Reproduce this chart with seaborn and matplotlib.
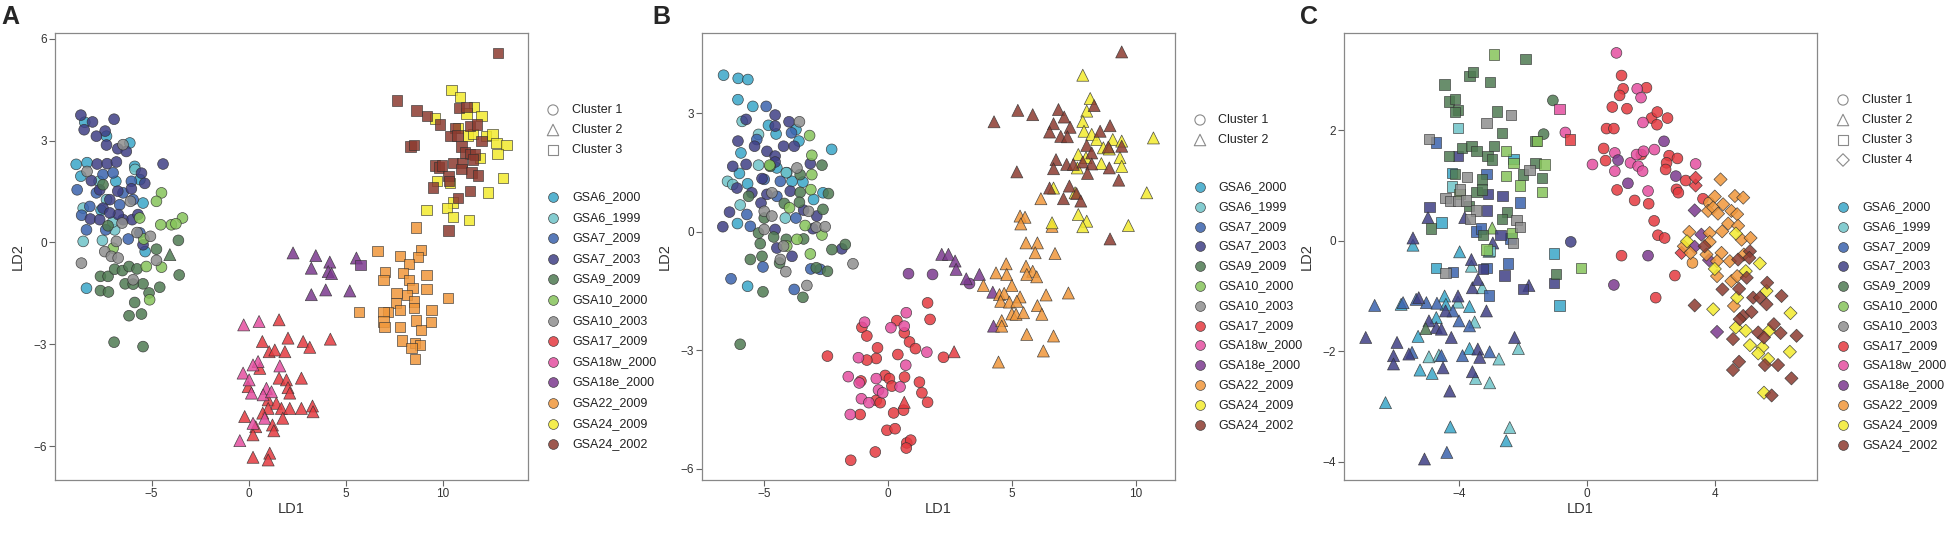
import pandas as pd
import matplotlib
matplotlib.use('Agg')
import matplotlib.pyplot as plt
import seaborn as sns

groups = ['GSA6_2000', 'GSA6_1999', 'GSA7_2009', 'GSA7_2003', 'GSA9_2009', 'GSA10_2000',
          'GSA10_2003', 'GSA17_2009', 'GSA18w_2000', 'GSA18e_2000', 'GSA22_2009',
          'GSA24_2009', 'GSA24_2002']
colors = ['#3AA6C8', '#6EC3C8', '#3B63AD', '#3F3F85', '#4F7A52', '#86C45A', '#8E8E8E',
          '#E43A3F', '#E44FA0', '#7B3A8E', '#F0973B', '#F3EA2E', '#8C3B30']

# ---------------- panel A (LD1, LD2) ----------------
A_GSA6_2000_1 = [(-8.88, 2.30), (-8.32, 2.35), (-8.64, 1.95), (-6.12, 2.93), (-5.44, 1.16), (-6.84, 1.80),
                 (-8.35, -1.35), (-5.33, -0.27), (-8.44, 3.54), (-7.32, 3.13), (-5.87, 2.24), (-5.60, 1.85),
                 (-7.60, 0.95)]
A_GSA6_1999_1 = [(-8.52, 0.03), (-7.53, 0.06), (-7.32, 1.26), (-6.90, 0.37), (-8.52, 1.01), (-7.70, 1.80),
                 (-5.85, 2.15), (-7.00, 0.60)]
A_GSA7_2009_1 = [(-8.83, 1.55), (-8.35, 0.37), (-7.84, 1.46), (-7.50, 2.00), (-6.47, 1.46), (-5.95, 1.26),
                 (-5.60, 0.28), (-7.36, 0.37), (-6.64, 1.11), (-8.18, 1.06), (-6.98, 2.05), (-6.04, 1.80),
                 (-8.60, 0.80), (-6.20, 0.10)]
A_GSA7_2003_1 = [(-8.64, 3.75), (-8.47, 3.32), (-8.04, 3.55), (-6.93, 3.63), (-7.39, 3.28), (-7.84, 3.13),
                 (-7.32, 2.87), (-6.74, 2.76), (-6.30, 2.68), (-7.80, 2.31), (-7.29, 2.32), (-6.81, 2.37),
                 (-4.41, 2.31), (-5.52, 2.04), (-5.35, 1.74), (-8.10, 1.82), (-7.67, 1.55), (-7.15, 1.26),
                 (-7.50, 1.01), (-6.74, 1.51), (-6.04, 1.58), (-8.15, 0.69), (-7.67, 0.67), (-6.47, 0.67),
                 (-6.00, 0.67), (-5.70, 0.82), (-5.44, -0.07), (-6.71, 0.82), (-7.15, 0.87)]
A_GSA9_2009_1 = [(-7.63, -1.00), (-7.24, -1.00), (-6.90, -0.79), (-6.50, -0.83), (-6.16, -0.71), (-5.75, -0.78),
                 (-5.44, -1.22), (-6.36, -1.22), (-5.95, -1.23), (-7.63, -1.42), (-7.22, -1.46), (-4.58, -1.32),
                 (-5.13, -1.49), (-5.87, -1.77), (-6.16, -2.16), (-5.52, -2.11), (-6.93, -2.94), (-5.44, -3.07),
                 (-3.62, 0.06), (-3.58, -0.96), (-4.75, -0.20), (-7.24, 0.49), (-7.50, 1.70)]
A_GSA9_2009_2 = [(-4.06, -0.36)]
A_GSA10_2000_1 = [(-4.49, 1.46), (-4.75, 1.21), (-3.41, 0.72), (-3.98, 0.52), (-4.53, 0.52), (-5.61, 0.72),
                  (-5.40, 0.10), (-5.27, -0.71), (-4.49, -0.73), (-5.10, -1.69), (-6.98, -0.17), (-3.75, 0.55)]
A_GSA10_2003_1 = [(-8.61, -0.61), (-7.41, -0.27), (-7.07, -0.41), (-6.72, -0.46), (-6.81, 0.03), (-6.52, 0.57),
                  (-6.09, 1.21), (-6.47, 2.88), (-8.32, 2.09), (-5.75, 0.29), (-5.06, 0.18), (-4.75, -0.53),
                  (-5.95, -1.10)]
A_GSA17_2009_2 = [(1.56, -2.28), (0.70, -2.92), (2.02, -2.82), (2.80, -2.92), (3.14, -3.09), (4.20, -2.85),
                  (1.05, -3.22), (1.34, -3.17), (1.86, -3.22), (0.57, -3.71), (1.56, -4.00), (1.94, -4.05),
                  (2.71, -4.00), (-0.03, -4.25), (2.02, -4.28), (2.11, -4.44), (1.00, -4.64), (1.42, -4.74),
                  (1.00, -4.89), (1.68, -4.89), (2.11, -4.89), (2.71, -4.89), (3.28, -4.82), (3.31, -4.99),
                  (-0.21, -5.13), (0.72, -5.03), (1.75, -5.18), (0.36, -5.43), (1.22, -5.38), (0.22, -5.67),
                  (1.29, -5.55), (1.08, -6.21), (0.22, -6.33), (1.00, -6.41)]
A_GSA18w_2000_2 = [(-0.26, -2.43), (0.53, -2.33), (0.48, -3.51), (0.22, -3.61), (1.60, -3.64), (-0.29, -3.85),
                   (0.02, -4.05), (0.91, -4.30), (0.14, -4.44), (0.74, -4.49), (1.17, -4.40), (0.22, -5.33),
                   (0.82, -5.18), (-0.46, -5.84)]
A_GSA18e_2000_2 = [(2.28, -0.31), (3.45, -0.39), (3.22, -0.76), (4.17, -0.58), (4.09, -0.86), (4.26, -0.92),
                   (5.54, -0.46), (3.22, -1.54), (3.96, -1.40), (5.20, -1.43)]
A_GSA18e_2000_3 = [(5.75, -0.66)]
A_GSA22_2009_3 = [(8.59, 0.44), (6.62, -0.25), (7.77, -0.39), (8.88, -0.22), (8.71, -0.44), (8.25, -0.63),
                  (7.00, -0.88), (7.92, -0.90), (6.93, -1.10), (8.26, -1.10), (9.14, -0.97), (8.43, -1.35),
                  (9.14, -1.38), (7.60, -1.50), (8.14, -1.54), (8.52, -1.74), (10.26, -1.64), (7.56, -1.79),
                  (7.77, -1.99), (7.17, -2.04), (6.93, -2.06), (5.68, -2.04), (8.52, -1.94), (9.40, -2.00),
                  (6.93, -2.33), (8.59, -2.30), (9.37, -2.35), (6.98, -2.50), (7.77, -2.50), (8.88, -2.58),
                  (7.90, -2.89), (8.54, -2.97), (8.83, -3.02), (8.37, -3.12), (8.54, -3.43)]
A_GSA24_2009_3 = [(10.43, 4.50), (10.86, 4.28), (11.58, 3.98), (11.97, 3.72), (9.57, 3.65), (11.20, 3.80),
                  (10.78, 3.37), (11.30, 3.15), (11.55, 3.20), (12.20, 3.13), (12.55, 3.18), (12.75, 2.93),
                  (13.26, 2.86), (12.80, 2.61), (11.90, 2.49), (13.09, 1.90), (10.34, 1.75), (9.70, 1.80),
                  (10.50, 1.18), (10.20, 1.01), (9.14, 0.96), (10.50, 0.75), (11.33, 0.67), (12.31, 1.47)]
A_GSA24_2002_3 = [(12.83, 5.58), (7.63, 4.18), (8.63, 3.89), (9.19, 3.72), (9.83, 3.47), (10.82, 3.96),
                  (11.20, 3.98), (10.60, 3.37), (10.38, 3.13), (10.74, 3.15), (10.95, 2.83), (11.12, 2.65),
                  (11.37, 2.61), (11.63, 2.59), (11.97, 2.98), (11.37, 3.44), (11.75, 3.47), (8.33, 2.83),
                  (8.50, 2.86), (9.57, 2.27), (9.79, 2.21), (9.96, 2.27), (10.50, 2.34), (10.98, 2.34),
                  (10.95, 2.16), (11.47, 2.06), (11.78, 1.97), (10.28, 1.95), (10.30, 1.80), (9.48, 1.62),
                  (10.78, 1.31), (11.40, 1.52), (10.28, 0.35), (11.55, 2.44)]

# ---------------- panel B ----------------
B_GSA6_2000_1 = [(-6.64, 3.97), (-6.05, 3.89), (-5.66, 3.86), (-6.06, 3.35), (-5.46, 3.18), (-4.83, 2.70),
                 (-4.52, 2.48), (-3.60, 2.30), (-2.28, 2.09), (-5.94, 2.00), (-6.00, 1.48), (-5.67, 1.22),
                 (-6.08, 0.21), (-5.67, -1.38), (-2.63, 0.99), (-3.01, 0.82), (-4.49, 1.62), (-3.88, 1.28),
                 (-3.44, 1.26), (-4.09, 1.50), (-3.72, 2.59)]
B_GSA6_1999_1 = [(-6.48, 1.28), (-6.27, 1.20), (-5.97, 0.68), (-5.23, 1.69), (-5.23, 2.47), (-4.11, 1.50),
                 (-5.89, 2.80), (-4.15, 0.35)]
B_GSA7_2009_1 = [(-4.92, 3.18), (-6.34, -1.19), (-5.05, -0.89), (-3.79, -1.46), (-3.12, -0.94), (-2.74, -0.95),
                 (-5.56, 0.14), (-5.70, 0.44), (-3.72, 0.35), (-5.00, 1.33), (-4.35, 1.28), (-3.90, 2.51),
                 (-5.30, 2.34), (-4.49, 0.90)]
B_GSA7_2003_1 = [(-6.67, 0.13), (-6.40, 0.50), (-5.73, 2.85), (-4.56, 2.96), (-4.56, 2.68), (-4.00, 2.79),
                 (-6.06, 2.30), (-5.39, 2.17), (-4.89, 2.04), (-4.56, 1.92), (-4.22, 2.17), (-3.79, 2.17),
                 (-5.73, 1.71), (-6.27, 1.66), (-5.09, 1.35), (-6.10, 1.11), (-5.50, 0.99), (-4.89, 0.95),
                 (-4.56, 1.77), (-3.95, 1.03), (-3.14, 1.73), (-2.88, 0.40), (-3.04, 0.08), (-4.56, 0.06),
                 (-4.49, -0.41), (-3.88, -0.62), (-1.87, -0.43), (-5.13, 0.73), (-3.41, 0.55)]
B_GSA9_2009_1 = [(-5.97, -2.85), (-5.56, -0.70), (-5.09, -0.62), (-5.05, -1.52), (-5.63, 0.90), (-3.55, 1.00),
                 (-2.67, 1.69), (-2.41, 0.97), (-2.63, 0.57), (-2.27, -0.45), (-1.73, -0.32), (-2.90, -0.91),
                 (-2.45, -1.00), (-3.44, -1.66), (-5.16, -0.30), (-4.62, -0.13), (-4.19, 0.72), (-3.58, 0.75),
                 (-4.11, -0.19), (-3.41, -0.18), (-4.76, 1.66), (-3.55, 1.45), (-5.00, 0.35), (-5.23, -0.03),
                 (-4.38, -0.79)]
B_GSA10_2000_1 = [(-3.17, 2.44), (-3.08, 1.94), (-3.08, 1.45), (-3.12, 1.07), (-4.78, 1.69), (-3.98, 0.61),
                  (-3.35, 0.16), (-2.67, -0.08), (-3.14, -0.56), (-3.68, -0.19), (-4.09, -0.36)]
B_GSA10_2003_1 = [(-3.58, 2.79), (-5.00, 0.52), (-4.69, 0.99), (-4.69, 0.40), (-3.21, 0.52), (-2.90, 0.12),
                  (-2.54, 0.13), (-1.42, -0.81), (-4.13, -1.01), (-3.28, -1.36), (-5.00, 0.06), (-4.35, -0.70),
                  (-4.22, -0.36), (-3.68, 1.62)]
B_GSA17_2009_1 = [(1.59, -1.80), (1.69, -2.22), (0.35, -2.25), (-1.06, -2.42), (-0.86, -2.64), (0.65, -2.56),
                  (0.86, -2.79), (1.10, -2.96), (-0.43, -2.94), (-0.48, -3.21), (-0.86, -3.25), (0.39, -3.11),
                  (-2.45, -3.15), (2.23, -3.18), (-1.10, -3.78), (-0.12, -3.64), (0.05, -3.72), (0.15, -3.91),
                  (0.66, -3.68), (1.26, -3.81), (1.36, -4.08), (1.59, -4.32), (-0.48, -4.27), (-0.32, -4.33),
                  (0.22, -4.59), (0.62, -4.52), (-1.13, -4.63), (-0.05, -5.03), (0.28, -4.99), (0.75, -5.35),
                  (0.91, -5.28), (0.73, -5.48), (-0.52, -5.58), (-1.51, -5.79)]
B_GSA17_2009_2 = [(2.66, -3.04), (0.65, -4.32)]
B_GSA18w_2000_1 = [(0.73, -2.05), (-0.95, -2.29), (0.11, -2.43), (0.65, -2.39), (1.56, -3.05), (-1.20, -3.19),
                   (0.71, -3.38), (-1.61, -3.67), (-1.17, -3.83), (-0.48, -3.72), (-0.39, -4.01), (-0.22, -4.08),
                   (0.48, -3.93), (-1.08, -4.23), (-0.78, -4.33), (-1.53, -4.63)]
B_GSA18e_2000_1 = [(0.82, -1.06), (1.79, -1.08), (3.28, -1.31)]
B_GSA18e_2000_2 = [(2.16, -0.57), (2.43, -0.57), (2.70, -0.74), (2.74, -0.95), (3.15, -1.19), (3.68, -1.08),
                   (4.22, -1.53), (4.25, -2.39)]
B_GSA22_2009_2 = [(6.16, 0.84), (5.32, 0.40), (5.52, 0.37), (5.35, 0.20), (6.61, 0.14), (5.56, -0.28),
                  (6.02, -0.28), (5.93, -0.53), (6.73, -0.55), (4.76, -0.81), (4.35, -1.04), (4.78, -1.08),
                  (5.56, -0.87), (5.83, -1.00), (5.59, -1.08), (5.99, -1.14), (3.84, -1.36), (4.99, -1.36),
                  (4.49, -1.59), (4.68, -1.56), (5.32, -1.65), (6.37, -1.60), (7.27, -1.55), (4.54, -1.76),
                  (4.89, -1.78), (5.19, -1.76), (6.02, -1.87), (4.99, -2.08), (5.16, -2.09), (5.46, -2.05),
                  (6.20, -2.09), (4.58, -2.25), (4.58, -2.39), (5.59, -2.60), (6.67, -2.64), (6.26, -3.02),
                  (4.45, -3.30)]
B_GSA24_2009_2 = [(7.85, 3.97), (8.15, 3.38), (8.01, 3.06), (7.85, 2.80), (7.90, 2.55), (8.21, 2.47),
                  (8.41, 2.34), (9.06, 2.34), (9.42, 2.30), (10.70, 2.38), (8.68, 2.13), (7.67, 1.96),
                  (7.98, 1.88), (9.35, 1.88), (9.42, 1.66), (8.60, 1.73), (7.63, 1.62), (6.67, 1.11),
                  (7.54, 0.99), (10.43, 0.99), (7.67, 0.44), (8.01, 0.27), (7.85, 0.13), (6.61, 0.23),
                  (9.69, 0.16), (8.92, 2.10)]
B_GSA24_2002_2 = [(9.42, 4.56), (8.31, 3.20), (5.23, 3.08), (5.83, 2.97), (4.27, 2.79), (6.87, 3.10),
                  (7.10, 2.91), (6.67, 2.74), (6.51, 2.53), (7.34, 2.65), (6.96, 2.42), (7.23, 2.41),
                  (8.55, 2.55), (8.95, 2.69), (8.01, 2.19), (8.21, 2.00), (8.88, 2.15), (9.42, 2.17),
                  (6.77, 1.83), (7.20, 1.71), (7.47, 1.71), (7.85, 1.77), (8.21, 1.72), (6.67, 1.60),
                  (8.04, 1.48), (8.92, 1.62), (5.19, 1.52), (9.30, 1.31), (6.51, 1.11), (7.31, 1.16),
                  (7.60, 0.97), (7.07, 0.84), (7.77, 0.78), (8.95, -0.18)]

# ---------------- panel C ----------------
C_GSA6_2000_2 = [(-3.99, -0.20), (-5.45, -0.08), (-6.31, -2.93), (-5.82, -1.15), (-5.29, -1.73), (-5.23, -2.34),
                 (-4.85, -2.40), (-4.46, -1.00), (-4.42, -1.15), (-3.68, -1.19), (-3.68, -1.95), (-4.28, -3.37),
                 (-2.53, -3.62), (-4.72, -1.39)]
C_GSA6_2000_3 = [(-4.22, 1.22), (-4.56, 0.33), (-4.72, -0.49), (-1.03, -0.23), (-0.86, -1.17), (-2.30, 1.48)]
C_GSA6_1999_2 = [(-3.62, -0.46), (-3.28, -0.85), (-3.52, -1.47), (-4.95, -2.10), (-4.64, -2.07), (-4.04, -1.11),
                 (-3.49, -2.49), (-3.05, -2.57), (-2.76, -2.14), (-2.15, -1.95), (-2.42, -3.38), (-3.07, -0.19)]
C_GSA6_1999_3 = [(-4.04, 2.04), (-4.22, 0.98), (-3.05, -0.19)]
C_GSA7_2009_2 = [(-6.65, -1.17), (-5.76, -1.12), (-5.03, -1.12), (-4.70, -1.13), (-4.01, -1.45), (-3.68, -1.54),
                 (-5.48, -2.02), (-4.56, -2.08), (-3.90, -2.08), (-3.05, -2.01), (-4.39, -3.83), (-5.35, -1.06),
                 (-4.20, -1.27)]
C_GSA7_2009_3 = [(-4.74, 1.78), (-3.15, 1.21), (-3.47, 0.17), (-3.31, 0.22), (-2.11, 0.69), (-2.48, -0.41),
                 (-4.20, -0.57), (-3.15, -0.49), (-3.07, -0.99), (-2.40, 0.04)]
C_GSA7_2003_1 = [(-0.51, -0.02)]
C_GSA7_2003_2 = [(-5.45, 0.05), (-4.98, 0.42), (-6.93, -1.75), (-6.06, -2.08), (-6.06, -2.23), (-5.58, -2.05),
                 (-5.95, -1.84), (-5.27, -1.03), (-4.04, -1.00), (-3.59, -0.85), (-3.62, -0.34), (-3.42, -0.70),
                 (-2.95, -0.04), (-3.15, -1.27), (-4.43, -1.27), (-4.95, -1.45), (-4.72, -1.57), (-4.56, -1.60),
                 (-4.25, -1.75), (-3.42, -1.96), (-3.36, -2.11), (-4.51, -2.30), (-3.59, -2.37), (-4.30, -2.72),
                 (-5.09, -3.95), (-2.27, -1.75), (-1.82, -0.81), (-3.83, 0.42)]
C_GSA7_2003_3 = [(-4.04, 1.53), (-4.93, 0.61), (-3.10, 0.85), (-2.65, 0.81), (-3.13, 0.55), (-2.71, 0.11),
                 (-2.58, -0.63), (-2.00, -0.87), (-1.04, -0.77), (-3.26, -0.51)]
C_GSA9_2009_1 = [(-1.07, 2.54), (-1.36, 1.93)]
C_GSA9_2009_2 = [(-5.05, -1.59)]
C_GSA9_2009_3 = [(-4.46, 2.83), (-3.68, 2.98), (-3.57, 3.05), (-3.03, 2.87), (-1.93, 3.29), (-4.32, 2.52),
                 (-4.14, 2.57), (-4.04, 2.37), (-4.14, 2.33), (-2.81, 2.34), (-2.66, 1.95), (-3.91, 1.68),
                 (-3.62, 1.71), (-3.46, 1.62), (-2.91, 1.72), (-3.12, 1.54), (-2.98, 1.47), (-4.32, 1.53),
                 (-4.14, 1.21), (-3.30, 1.11), (-3.46, 0.88), (-3.30, 0.93), (-1.61, 1.41), (-2.00, 1.20),
                 (-1.42, 1.13), (-1.61, 1.80), (-2.51, 0.52), (-2.66, 0.40), (-4.88, 0.22), (-3.70, 0.63),
                 (-3.26, 0.10), (-0.98, -0.60)]
C_GSA10_2000_2 = [(-2.97, 0.23)]
C_GSA10_2000_3 = [(-2.92, 3.37), (-2.53, 1.62), (-1.33, 1.38), (-1.57, 1.80), (-2.53, 1.17), (-2.30, 1.41),
                  (-2.11, 1.00), (-1.42, 0.88), (-2.34, 0.14), (-3.15, -0.16), (-0.18, -0.49), (-3.99, 0.85)]
C_GSA10_2003_3 = [(-4.95, 1.84), (-3.15, 2.13), (-2.39, 2.27), (-3.76, 1.15), (-3.97, 0.93), (-4.43, 0.77),
                  (-4.30, 0.72), (-4.04, 0.72), (-3.80, 0.73), (-3.47, 0.55), (-3.66, 0.40), (-2.21, 0.37),
                  (-2.09, 0.25), (-2.32, -0.04), (-4.43, -0.58), (-1.80, 1.28)]
C_GSA17_2009_1 = [(1.08, 2.99), (1.13, 2.75), (1.02, 2.63), (0.79, 2.42), (1.25, 2.39), (1.86, 2.77),
                  (2.02, 2.22), (2.20, 2.33), (2.19, 2.10), (2.52, 2.22), (0.61, 2.03), (0.84, 2.03),
                  (0.52, 1.67), (0.58, 1.45), (1.70, 1.56), (2.57, 1.54), (2.83, 1.49), (2.49, 1.41),
                  (2.46, 1.29), (3.09, 1.09), (0.94, 0.92), (2.80, 0.93), (2.86, 0.87), (1.49, 0.73),
                  (1.93, 0.67), (2.10, 0.36), (2.22, 0.10), (2.43, 0.05), (1.08, -0.27), (2.75, -0.63),
                  (2.15, -1.03), (3.63, 0.76)]
C_GSA17_2009_3 = [(-0.54, 1.83)]
C_GSA17_2009_4 = [(3.40, 1.00), (2.96, -0.22), (3.40, 1.14)]
C_GSA18w_2000_1 = [(0.92, 3.40), (1.57, 2.75), (1.69, 2.59), (1.75, 2.14), (-0.68, 1.96), (0.17, 1.38),
                   (0.87, 1.59), (0.87, 1.26), (1.36, 1.41), (1.55, 1.56), (1.77, 1.62), (2.11, 1.65),
                   (1.60, 1.35), (1.74, 1.26), (3.40, 1.39), (1.91, 0.90)]
C_GSA18w_2000_3 = [(-0.86, 2.39)]
C_GSA18e_2000_1 = [(2.41, 1.80), (0.97, 1.46), (1.28, 1.04), (2.78, 1.17), (1.91, -0.27), (0.84, -0.80)]
C_GSA18e_2000_4 = [(3.37, 0.55), (3.58, 0.11), (3.37, -0.11), (3.82, -0.35), (4.07, -1.65)]
C_GSA22_2009_1 = [(3.82, 0.69), (3.30, -0.40)]
C_GSA22_2009_4 = [(4.18, 1.11), (4.00, 0.80), (4.63, 0.81), (4.89, 0.78), (3.79, 0.54), (3.95, 0.60),
                  (4.26, 0.66), (4.10, 0.49), (4.52, 0.54), (4.70, 0.48), (4.42, 0.31), (4.73, 0.27),
                  (3.20, 0.16), (3.84, 0.14), (4.23, 0.17), (4.84, 0.02), (5.12, 0.05), (3.84, -0.02),
                  (3.03, -0.10), (3.24, -0.22), (3.74, -0.25), (4.21, -0.22), (4.07, -0.37), (4.47, -0.37),
                  (4.91, -0.25), (4.07, -0.64), (4.52, -0.73), (4.60, -1.18), (4.70, -0.64)]
C_GSA24_2009_4 = [(3.13, -0.01), (4.66, 0.13), (5.41, -0.41), (4.00, -0.51), (4.97, -0.55), (5.62, -0.91),
                  (3.95, -1.24), (4.66, -1.57), (4.97, -1.63), (5.70, -1.63), (6.37, -1.31), (5.10, -1.89),
                  (5.49, -1.93), (5.36, -2.04), (5.67, -2.14), (6.35, -2.01), (5.54, -2.75), (4.70, -1.03)]
C_GSA24_2002_4 = [(3.68, -0.10), (5.10, -0.19), (4.73, -0.34), (5.08, -0.31), (4.24, -0.88), (4.76, -0.87),
                  (3.37, -1.17), (5.00, -0.67), (5.64, -0.76), (6.09, -1.00), (5.20, -1.03), (5.41, -1.03),
                  (5.62, -1.15), (4.89, -1.36), (5.15, -1.29), (5.36, -1.66), (5.54, -1.75), (5.85, -1.51),
                  (6.06, -1.67), (6.56, -1.72), (4.57, -1.78), (4.76, -2.19), (4.57, -2.34), (5.57, -2.25),
                  (5.98, -2.25), (6.40, -2.49), (5.78, -2.80), (4.78, -1.42)]

PANEL_A = [('GSA6_2000', 1, A_GSA6_2000_1), ('GSA6_1999', 1, A_GSA6_1999_1), ('GSA7_2009', 1, A_GSA7_2009_1),
           ('GSA7_2003', 1, A_GSA7_2003_1), ('GSA9_2009', 1, A_GSA9_2009_1), ('GSA9_2009', 2, A_GSA9_2009_2),
           ('GSA10_2000', 1, A_GSA10_2000_1), ('GSA10_2003', 1, A_GSA10_2003_1),
           ('GSA17_2009', 2, A_GSA17_2009_2), ('GSA18w_2000', 2, A_GSA18w_2000_2),
           ('GSA18e_2000', 2, A_GSA18e_2000_2), ('GSA18e_2000', 3, A_GSA18e_2000_3),
           ('GSA22_2009', 3, A_GSA22_2009_3), ('GSA24_2009', 3, A_GSA24_2009_3), ('GSA24_2002', 3, A_GSA24_2002_3)]
PANEL_B = [('GSA6_2000', 1, B_GSA6_2000_1), ('GSA6_1999', 1, B_GSA6_1999_1), ('GSA7_2009', 1, B_GSA7_2009_1),
           ('GSA7_2003', 1, B_GSA7_2003_1), ('GSA9_2009', 1, B_GSA9_2009_1), ('GSA10_2000', 1, B_GSA10_2000_1),
           ('GSA10_2003', 1, B_GSA10_2003_1), ('GSA17_2009', 1, B_GSA17_2009_1), ('GSA17_2009', 2, B_GSA17_2009_2),
           ('GSA18w_2000', 1, B_GSA18w_2000_1), ('GSA18e_2000', 1, B_GSA18e_2000_1),
           ('GSA18e_2000', 2, B_GSA18e_2000_2), ('GSA22_2009', 2, B_GSA22_2009_2),
           ('GSA24_2009', 2, B_GSA24_2009_2), ('GSA24_2002', 2, B_GSA24_2002_2)]
PANEL_C = [('GSA6_2000', 2, C_GSA6_2000_2), ('GSA6_2000', 3, C_GSA6_2000_3), ('GSA6_1999', 2, C_GSA6_1999_2),
           ('GSA6_1999', 3, C_GSA6_1999_3), ('GSA7_2009', 2, C_GSA7_2009_2), ('GSA7_2009', 3, C_GSA7_2009_3),
           ('GSA7_2003', 1, C_GSA7_2003_1), ('GSA7_2003', 2, C_GSA7_2003_2), ('GSA7_2003', 3, C_GSA7_2003_3),
           ('GSA9_2009', 1, C_GSA9_2009_1), ('GSA9_2009', 2, C_GSA9_2009_2), ('GSA9_2009', 3, C_GSA9_2009_3),
           ('GSA10_2000', 2, C_GSA10_2000_2), ('GSA10_2000', 3, C_GSA10_2000_3), ('GSA10_2003', 3, C_GSA10_2003_3),
           ('GSA17_2009', 1, C_GSA17_2009_1), ('GSA17_2009', 3, C_GSA17_2009_3), ('GSA17_2009', 4, C_GSA17_2009_4),
           ('GSA18w_2000', 1, C_GSA18w_2000_1), ('GSA18w_2000', 3, C_GSA18w_2000_3),
           ('GSA18e_2000', 1, C_GSA18e_2000_1), ('GSA18e_2000', 4, C_GSA18e_2000_4),
           ('GSA22_2009', 1, C_GSA22_2009_1), ('GSA22_2009', 4, C_GSA22_2009_4),
           ('GSA24_2009', 4, C_GSA24_2009_4), ('GSA24_2002', 4, C_GSA24_2002_4)]


def to_frame(panel):
    rows = []
    for g, cl, pts in panel:
        for x, y in pts:
            rows.append({'LD1': x, 'LD2': y, 'group': g, 'cluster': 'Cluster %d' % cl})
    return pd.DataFrame(rows)


sns.set_style('white')
plt.rcParams['font.family'] = ['Liberation Sans', 'DejaVu Sans']

palette = dict(zip(groups, colors))
shape = {'Cluster 1': 'o', 'Cluster 2': '^', 'Cluster 3': 's', 'Cluster 4': 'D'}
sizes = {'Cluster 1': 60, 'Cluster 2': 75, 'Cluster 3': 55, 'Cluster 4': 45}

W, H = 1951, 546
fig = plt.figure(figsize=(W / 100, H / 100), dpi=100)

panels = [
    ('A', PANEL_A, 55, (-9.97, 14.37), (-7.0, 6.17), [-5, 0, 5, 10], [-6, -3, 0, 3, 6], 3),
    ('B', PANEL_B, 702, (-7.51, 11.57), (-6.29, 5.04), [-5, 0, 5, 10], [-6, -3, 0, 3], 2),
    ('C', PANEL_C, 1344, (-7.61, 7.2), (-4.33, 3.76), [-4, 0, 4], [-4, -2, 0, 2], 4),
]
legend_pos = {'A': (553, 572, 110, 197, 20.6), 'B': (1200, 1218, 120, 187, 19.8),
              'C': (1843, 1862, 100, 207, 19.8)}
letter_x = {'A': 1, 'B': 652, 'C': 1300}

for letter, panel, left, xlim, ylim, xt, yt, ncl in panels:
    ax = fig.add_axes([left / W, 1 - 480 / H, 473 / W, 447 / H])
    df = to_frame(panel)
    for cl in ['Cluster %d' % i for i in range(1, ncl + 1)]:
        sub = df[df['cluster'] == cl]
        sns.scatterplot(data=sub, x='LD1', y='LD2', hue='group', palette=palette,
                        marker=shape[cl], s=sizes[cl], alpha=0.85, edgecolor='#303030',
                        linewidth=0.5, legend=False, ax=ax)
    ax.set_xlim(*xlim)
    ax.set_ylim(*ylim)
    ax.set_xticks(xt)
    ax.set_yticks(yt)
    ax.set_xticklabels([str(v).replace('-', '\u2212') for v in xt])
    ax.set_yticklabels([str(v).replace('-', '\u2212') for v in yt])
    ax.tick_params(direction='out', length=4, width=0.8, color='#666666', labelsize=8.5,
                   labelcolor='#333333', pad=2, bottom=True, left=True)
    for sp in ax.spines.values():
        sp.set_color('#888888')
        sp.set_linewidth(0.9)
    ax.set_xlabel('LD1', fontsize=10.5, color='#333333', labelpad=1)
    ax.set_ylabel('LD2', fontsize=10.5, color='#333333', labelpad=6)
    fig.text(letter_x[letter] / W, 1 - 24 / H, letter, fontsize=18, fontweight='bold',
             ha='left', va='baseline')

# legends drawn in an overlay axes in pixel coordinates
lax = fig.add_axes([0, 0, 1, 1])
lax.set_xlim(0, W)
lax.set_ylim(H, 0)
lax.axis('off')
for letter, panel, left, xlim, ylim, xt, yt, ncl in panels:
    mx, tx, cy, gy, step = legend_pos[letter]
    for i in range(ncl):
        cl = 'Cluster %d' % (i + 1)
        lax.scatter([mx], [cy + 20 * i], marker=shape[cl], s=sizes[cl] * 0.9, facecolor='none',
                    edgecolor='#8a8a8a', linewidth=0.8)
        lax.text(tx, cy + 20 * i, cl, fontsize=9, va='center', ha='left', color='#222222')
    for j, g in enumerate(groups):
        lax.scatter([mx], [gy + step * j], marker='o', s=50, color=palette[g], alpha=0.85,
                    edgecolor='#303030', linewidth=0.5)
        lax.text(tx, gy + step * j, g, fontsize=9, va='center', ha='left', color='#222222')

fig.savefig('out.png', dpi=100)
